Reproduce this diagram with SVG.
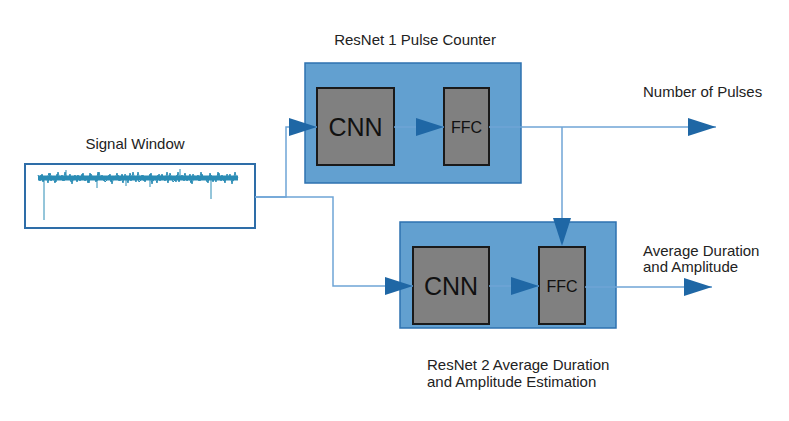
<svg xmlns="http://www.w3.org/2000/svg" width="789" height="421" viewBox="0 0 789 421">
<style>
text{font-family:"Liberation Sans",Arial,sans-serif;fill:#222}
.lbl{font-size:15px}
.cnn{font-size:25px;text-anchor:middle;fill:#111}
.ffc{font-size:16px;text-anchor:middle;fill:#111}
.big{fill:#62A0D0;stroke:#2E72B0;stroke-width:1.5}
.blk{fill:#808080;stroke:#1a1a1a;stroke-width:2}
.con{fill:none;stroke:#6FA5D6;stroke-width:1.5;marker-end:url(#ah)}
.con2{fill:none;stroke:#6FA5D6;stroke-width:1.5}
.sig{fill:none;stroke:#2A8CB5;stroke-width:1}
</style>
<defs>
<marker id="ah" markerUnits="userSpaceOnUse" markerWidth="28" markerHeight="18" refX="28" refY="9" orient="auto">
<path d="M0,0 L28,9 L0,18 Z" fill="#1F67A5"/>
</marker>
</defs>
<rect width="789" height="421" fill="#fff"/>

<g id="signal-window">
<text class="lbl" x="135" y="149" text-anchor="middle">Signal Window</text>
<rect x="25" y="164" width="230" height="64" fill="#fff" stroke="#2E6DA8" stroke-width="2"/>
<rect x="38" y="175.5" width="200" height="5" fill="#2A8CB5"/>
<polyline class="sig" points="38,175 40,181 42,174 44,180 46,176 48,183 50,173 52,179 54,177 56,182 58,172 60,180 62,175 64,181 66,176 68,179 70,174 72,184 74,176 76,180 78,175 80,181 82,174 84,180 86,176 88,183 90,173 92,179 94,177 96,182 98,172 100,180 102,175 104,181 106,176 108,179 110,174 112,184 114,176 116,180 118,175 120,181 122,174 124,180 126,176 128,183 130,173 132,179 134,177 136,182 138,172 140,180 142,175 144,181 146,176 148,179 150,174 152,184 154,176 156,180 158,175 160,181 162,174 164,180 166,176 168,183 170,173 172,179 174,177 176,182 178,172 180,180 182,175 184,181 186,176 188,179 190,174 192,184 194,176 196,180 198,175 200,181 202,174 204,180 206,176 208,183 210,173 212,179 214,177 216,182 218,172 220,180 222,175 224,181 226,176 228,179 230,174 232,184 234,176 236,180 238,177"/>
<polyline class="sig" points="39,180 41,175 43,182 45,176 47,179 49,173 51,181 53,177 55,183 57,174 59,178 61,176 63,181 65,172 67,180 69,177 71,182 73,180 75,175 77,182 79,176 81,179 83,173 85,181 87,177 89,183 91,174 93,178 95,176 97,181 99,172 101,180 103,177 105,182 107,180 109,175 111,182 113,176 115,179 117,173 119,181 121,177 123,183 125,174 127,178 129,176 131,181 133,172 135,180 137,177 139,182 141,180 143,175 145,182 147,176 149,179 151,173 153,181 155,177 157,183 159,174 161,178 163,176 165,181 167,172 169,180 171,177 173,182 175,180 177,175 179,182 181,176 183,179 185,173 187,181 189,177 191,183 193,174 195,178 197,176 199,181 201,172 203,180 205,177 207,182 209,180 211,175 213,182 215,176 217,179 219,173 221,181 223,177 225,183 227,174 229,178 231,176 233,181 235,172 237,180"/>
<path class="sig" stroke-width="1.5" d="M44,178 V220 M211,178 V199 M97,178 V188 M150,177 V187 M180,176 V169 M66,176 V170 M126,179 V186"/>
</g>

<g id="resnet1">
<text class="lbl" x="415" y="45" text-anchor="middle">ResNet 1 Pulse Counter</text>
<rect class="big" x="305" y="63" width="216" height="120"/>
</g>
<g id="cnn1">
<rect class="blk" x="317" y="88" width="77" height="77"/>
<text class="cnn" x="355.5" y="136">CNN</text>
</g>
<g id="ffc1">
<rect class="blk" x="444" y="88" width="45" height="77"/>
<text class="ffc" x="466.5" y="133">FFC</text>
</g>

<g id="resnet2">
<rect class="big" x="400" y="222" width="216" height="106"/>
<text class="lbl" x="427" y="370">ResNet 2 Average Duration</text>
<text class="lbl" x="427" y="387">and Amplitude Estimation</text>
</g>
<g id="cnn2">
<rect class="blk" x="413" y="247" width="76" height="77"/>
<text class="cnn" x="451" y="295">CNN</text>
</g>
<g id="ffc2">
<rect class="blk" x="539" y="247" width="46" height="77"/>
<text class="ffc" x="562" y="292">FFC</text>
</g>

<g id="outputs">
<text class="lbl" x="643" y="97">Number of Pulses</text>
<text class="lbl" x="643" y="256">Average Duration</text>
<text class="lbl" x="643" y="272">and Amplitude</text>
</g>

<g id="connectors">
<path class="con" d="M255,197 H286 V127 H317"/>
<path class="con" d="M255,197 H333 V286 H413"/>
<path class="con" d="M394,127 H444"/>
<path class="con" d="M489,127 H716"/>
<path class="con" d="M562,127 V246"/>
<path class="con" d="M489,286 H539"/>
<path class="con" d="M585,287 H712"/>
</g>
</svg>
